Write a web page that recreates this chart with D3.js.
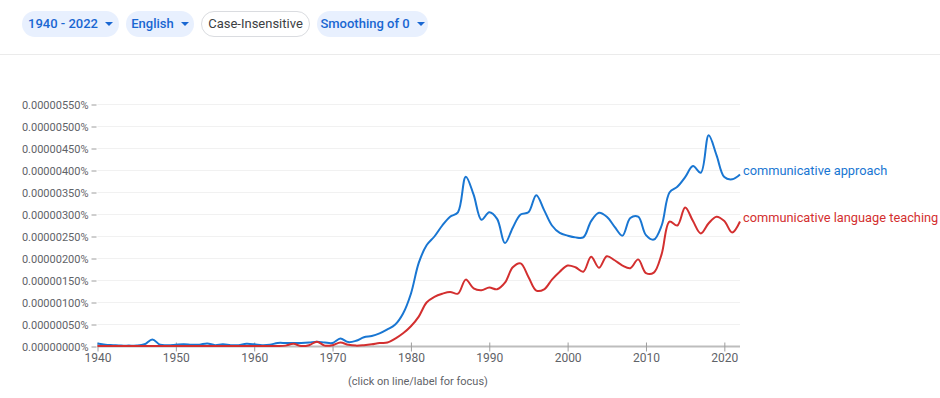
<!DOCTYPE html>
<html>
<head>
<meta charset="utf-8">
<script src="https://cdn.jsdelivr.net/npm/d3@7"></script>
<style>
  body { margin: 0; background: #fff; font-family: Roboto, "Noto Sans", sans-serif; }
  .bar { position: absolute; left: 0; top: 0; width: 940px; height: 54px; border-bottom: 1px solid #ebebeb; }
  .pill {
    position: absolute; top: 11px; height: 26px; box-sizing: border-box;
    border-radius: 13px; font-size: 13px; line-height: 26px;
    font-weight: 500; color: #1967d2; background: #e8f0fe; text-align: center;
  }
  .pill .caret { display: inline-block; margin-left: 7px; width: 0; height: 0;
    border-left: 4px solid transparent; border-right: 4px solid transparent;
    border-top: 4px solid #1967d2; vertical-align: 2px; }
  .pill.plain { background: #fff; border: 1px solid #dadce0; color: #3c4043; font-weight: 400; line-height: 24px; }
  #chart { position: absolute; left: 0; top: 0; }
</style>
</head>
<body>
<div class="bar"></div>
<div id="chart"></div>
<script>
// 年份
const years = d3.range(1940, 2023);
// 數值，單位 0.0000001%
const approach = [
  0.7, 0.4, 0.3, 0.2, 0.2, 0.2, 0.5, 1.6, 0.4, 0.3,
  0.4, 0.5, 0.4, 0.4, 0.7, 0.3, 0.5, 0.3, 0.3, 0.6,
  0.5, 0.3, 0.4, 0.8, 0.8, 0.8, 0.8, 0.9, 1.1, 0.9,
  0.8, 1.8, 1.0, 1.3, 2.1, 2.4, 3.0, 3.9, 5.0, 7.5,
  12.0, 19.0, 23.0, 25.0, 27.5, 29.5, 30.5, 38.6, 34.5, 28.8,
  30.5, 29.0, 23.5, 27.0, 30.0, 30.5, 34.4, 31.0, 27.5, 25.8,
  25.2, 24.8, 24.8, 28.5, 30.4, 29.5, 27.2, 25.2, 29.2, 29.5,
  25.3, 24.3, 27.5, 35.0, 36.3, 38.5, 41.0, 39.5, 48.0, 43.5,
  38.5, 38.0, 39.1
];
const languageTeaching = [
  0.1, 0.1, 0.1, 0.1, 0.1, 0.1, 0.1, 0.1, 0.1, 0.1,
  0.1, 0.1, 0.1, 0.1, 0.1, 0.1, 0.1, 0.1, 0.1, 0.1,
  0.1, 0.1, 0.1, 0.1, 0.2, 0.6, 0.1, 0.3, 1.1, 0.2,
  0.3, 0.9, 0.4, 0.2, 0.3, 0.5, 0.8, 0.9, 1.8, 3.0,
  4.6, 6.8, 10.0, 11.3, 12.0, 12.4, 12.0, 15.2, 13.2, 12.8,
  13.4, 13.0, 14.5, 18.0, 18.9, 15.8, 12.7, 13.0, 15.2, 17.0,
  18.4, 18.0, 17.0, 20.4, 17.9, 20.5, 19.6, 18.4, 17.8, 19.8,
  16.7, 16.8, 21.0, 28.4, 27.5, 31.6, 28.5, 25.7, 28.0, 29.5,
  28.5, 25.9, 28.4
];
const seriesNames = ['communicative approach', 'communicative language teaching'];
const seriesColors = ['#1976d2', '#d32f2f'];
const yTicks = [0, 5, 10, 15, 20, 25, 30, 35, 40, 45, 50, 55];
const xTicks = [1940, 1950, 1960, 1970, 1980, 1990, 2000, 2010, 2020];
const buttons = [
  { label: '1940 - 2022', left: 22, width: 97, caret: true },
  { label: 'English', left: 126, width: 68, caret: true },
  { label: 'Case-Insensitive', left: 201, width: 109, caret: false },
  { label: 'Smoothing of 0', left: 317, width: 111, caret: true },
];

// 上方按鈕
buttons.forEach((b) => {
  const el = d3.select('body').append('div')
    .attr('class', 'pill' + (b.caret ? '' : ' plain'))
    .style('left', b.left + 'px')
    .style('width', b.width + 'px');
  el.append('span').text(b.label);
  if (b.caret) el.append('span').attr('class', 'caret');
});

const W = 940, H = 398;
const svg = d3.select('#chart').append('svg').attr('width', W).attr('height', H);

const x = d3.scaleLinear().domain([1940, 2022]).range([97.5, 740]);
const y = d3.scaleLinear().domain([0, 55]).range([346.5, 104.5]);

// 格線
svg.append('g')
  .selectAll('line')
  .data(yTicks.filter((d) => d > 0))
  .join('line')
  .attr('x1', x(1940)).attr('x2', x(2022))
  .attr('y1', (d) => y(d)).attr('y2', (d) => y(d))
  .attr('stroke', '#f1f1f1').attr('stroke-width', 1);

// y 軸
const yAxis = svg.append('g')
  .attr('transform', `translate(${x(1940)},0)`)
  .call(d3.axisLeft(y).tickValues(yTicks).tickSize(6).tickPadding(3)
    .tickFormat((d) => (d / 1e7).toFixed(8) + '%'));
yAxis.select('.domain').remove();
yAxis.selectAll('.tick line').attr('stroke', '#9e9e9e').attr('x1', -6).attr('x2', -1);
yAxis.selectAll('.tick text')
  .attr('fill', '#5f6368').style('font-family', 'Roboto').style('font-size', '11px');

// x 軸
const xAxis = svg.append('g')
  .attr('transform', `translate(0,${y(0)})`)
  .call(d3.axisBottom(x).tickValues(xTicks).tickSize(5).tickPadding(2).tickFormat(d3.format('d')));
xAxis.select('.domain').attr('stroke', '#bdbdbd').attr('stroke-width', 2)
  .attr('d', `M${x(1940)},0H${x(2022)}`);
xAxis.selectAll('.tick line').attr('stroke', '#9e9e9e').attr('y1', -4);
xAxis.selectAll('.tick text')
  .attr('fill', '#5f6368').style('font-family', 'Roboto').style('font-size', '12px');

// 線
const line = d3.line()
  .x((d, i) => x(years[i]))
  .y((d) => y(d))
  .curve(d3.curveCatmullRom.alpha(0.5));

const series = [approach, languageTeaching];
series.forEach((vals, k) => {
  svg.append('path')
    .datum(vals)
    .attr('d', line)
    .attr('fill', 'none')
    .attr('stroke', seriesColors[k])
    .attr('stroke-width', 2);
  svg.append('text')
    .attr('x', x(2022) + 3)
    .attr('y', y(vals[vals.length - 1]) - 3)
    .attr('dominant-baseline', 'middle')
    .attr('fill', seriesColors[k])
    .style('font-family', 'Roboto')
    .style('font-size', '12.8px')
    .text(seriesNames[k]);
});

svg.append('text')
  .attr('x', 418).attr('y', 385)
  .attr('text-anchor', 'middle')
  .attr('fill', '#5f6368')
  .style('font-family', 'Roboto')
  .style('font-size', '11px')
  .text('(click on line/label for focus)');
</script>
</body>
</html>
